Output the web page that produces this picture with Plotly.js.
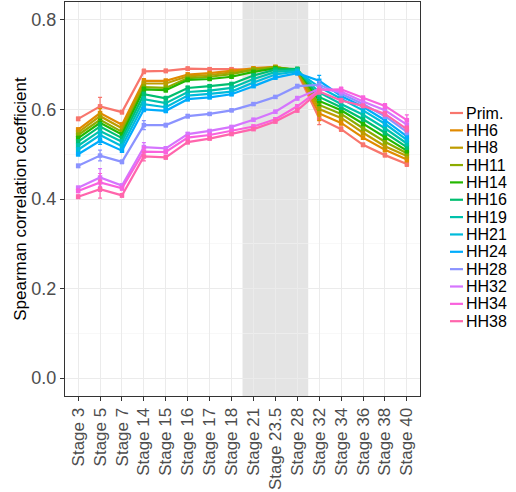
<!DOCTYPE html>
<html>
<head>
<meta charset="utf-8">
<script src="https://cdn.plot.ly/plotly-3.0.1.min.js"></script>
<style>html,body{margin:0;padding:0;background:#fff;}#chart{width:516px;height:492px;}</style>
</head>
<body>
<div id="chart"></div>
<script>
const stages = ["Stage 3","Stage 5","Stage 7","Stage 14","Stage 15","Stage 16","Stage 17","Stage 18","Stage 21","Stage 23.5","Stage 28","Stage 32","Stage 34","Stage 36","Stage 38","Stage 40"];

const seriesNames = ["Prim.","HH6","HH8","HH11","HH14","HH16","HH19","HH21","HH24","HH28","HH32","HH34","HH38"];
const seriesColors = ["#F8766D","#E18A00","#BE9C00","#8CAB00","#24B700","#00BE70","#00C1AB","#00BBDA","#00ACFC","#8B93FF","#D575FE","#F962DD","#FF65AC"];

const prim = [0.579,0.607,0.594,0.685,0.686,0.691,0.690,0.690,0.688,0.690,0.683,0.580,0.556,0.521,0.498,0.478];
const hh6  = [0.555,0.592,0.566,0.664,0.664,0.678,0.681,0.686,0.692,0.695,0.685,0.591,0.570,0.537,0.510,0.488];
const hh8  = [0.549,0.585,0.558,0.658,0.658,0.674,0.677,0.683,0.690,0.695,0.687,0.601,0.581,0.548,0.518,0.496];
const hh11 = [0.543,0.577,0.550,0.650,0.648,0.670,0.673,0.679,0.689,0.694,0.688,0.610,0.590,0.558,0.528,0.502];
const hh14 = [0.536,0.570,0.544,0.645,0.643,0.666,0.668,0.673,0.684,0.692,0.690,0.619,0.598,0.568,0.538,0.508];
const hh16 = [0.528,0.562,0.536,0.634,0.625,0.648,0.652,0.657,0.676,0.689,0.690,0.628,0.605,0.578,0.548,0.516];
const hh19 = [0.519,0.552,0.528,0.623,0.614,0.639,0.642,0.648,0.668,0.684,0.688,0.638,0.612,0.588,0.558,0.524];
const hh21 = [0.510,0.543,0.518,0.612,0.605,0.631,0.635,0.640,0.660,0.678,0.685,0.650,0.624,0.598,0.568,0.532];
const hh24 = [0.500,0.530,0.508,0.600,0.597,0.623,0.627,0.634,0.652,0.671,0.681,0.664,0.630,0.606,0.576,0.540];
const hh28 = [0.474,0.497,0.483,0.565,0.565,0.585,0.590,0.598,0.612,0.628,0.652,0.655,0.635,0.612,0.585,0.550];
const hh32 = [0.425,0.448,0.430,0.516,0.513,0.545,0.552,0.561,0.577,0.595,0.625,0.646,0.640,0.618,0.598,0.566];
const hh34 = [0.418,0.437,0.424,0.506,0.505,0.537,0.543,0.552,0.562,0.578,0.607,0.644,0.645,0.626,0.608,0.576];
const hh38 = [0.405,0.422,0.408,0.495,0.493,0.527,0.535,0.545,0.556,0.573,0.598,0.640,0.620,0.608,0.590,0.556];

const errPrim = [0.004,0.020,0.004,0.005,0.004,0.004,0.003,0.003,0.003,0.003,0.004,0.014,0.005,0.004,0.004,0.005];
const errHH6  = [0.004,0.010,0.004,0.005,0.004,0.004,0.003,0.003,0.003,0.003,0.004,0.016,0.005,0.004,0.005,0.005];
const errHH8  = [0.004,0.008,0.004,0.005,0.004,0.004,0.003,0.003,0.003,0.003,0.004,0.016,0.005,0.004,0.005,0.005];
const errHH11 = [0.004,0.008,0.004,0.005,0.004,0.004,0.003,0.003,0.003,0.003,0.004,0.012,0.005,0.004,0.005,0.005];
const errHH14 = [0.004,0.008,0.004,0.005,0.004,0.004,0.003,0.003,0.003,0.003,0.004,0.010,0.005,0.004,0.005,0.005];
const errHH16 = [0.004,0.008,0.004,0.005,0.004,0.004,0.003,0.003,0.003,0.003,0.004,0.008,0.005,0.004,0.005,0.005];
const errHH19 = [0.004,0.008,0.004,0.005,0.004,0.004,0.003,0.003,0.003,0.003,0.004,0.008,0.005,0.004,0.005,0.005];
const errHH21 = [0.004,0.008,0.004,0.005,0.004,0.004,0.003,0.003,0.003,0.003,0.004,0.008,0.005,0.004,0.006,0.005];
const errHH24 = [0.004,0.008,0.004,0.005,0.004,0.004,0.003,0.003,0.003,0.003,0.004,0.012,0.005,0.004,0.012,0.006];
const errHH28 = [0.004,0.012,0.004,0.010,0.004,0.004,0.003,0.003,0.003,0.003,0.004,0.008,0.005,0.004,0.005,0.006];
const errHH32 = [0.004,0.020,0.004,0.010,0.004,0.004,0.003,0.003,0.003,0.003,0.004,0.006,0.005,0.004,0.005,0.008];
const errHH34 = [0.004,0.020,0.004,0.010,0.004,0.004,0.003,0.003,0.003,0.003,0.004,0.006,0.005,0.004,0.005,0.012];
const errHH38 = [0.004,0.020,0.004,0.010,0.004,0.004,0.003,0.003,0.003,0.003,0.004,0.006,0.005,0.004,0.005,0.006];

const seriesValues = [prim,hh6,hh8,hh11,hh14,hh16,hh19,hh21,hh24,hh28,hh32,hh34,hh38];
const seriesErrors = [errPrim,errHH6,errHH8,errHH11,errHH14,errHH16,errHH19,errHH21,errHH24,errHH28,errHH32,errHH34,errHH38];

const yTicks = [0.0,0.2,0.4,0.6,0.8];
const shadedStart = "Stage 21", shadedEnd = "Stage 28";

// geometry (pixels in 516x492 canvas)
const W = 516, H = 492;
const M = {l:65, r:96, t:2, b:96};
const pw = W - M.l - M.r, ph = H - M.t - M.b;
const px2paperX = p => (p - M.l) / pw;
const px2paperY = p => (H - M.b - p) / ph;
const FONT = 'Liberation Sans, Arial, Helvetica, sans-serif';

const traces = [];
seriesNames.forEach((name, i) => {
  traces.push({
    x: stages, y: seriesValues[i], type: 'scatter', mode: 'lines',
    name: name, showlegend: false, hoverinfo: 'skip',
    line: {color: seriesColors[i], width: 2.2}
  });
  traces.push({
    x: stages, y: seriesValues[i], type: 'scatter', mode: 'markers',
    name: name, showlegend: false,
    marker: {color: seriesColors[i], size: 4.5, symbol: 'square'},
    error_y: {type: 'data', array: seriesErrors[i], visible: true, color: seriesColors[i], thickness: 1.2, width: 2}
  });
});

const s0 = stages.indexOf(shadedStart), s1 = stages.indexOf(shadedEnd);
const shapes = [{
  type: 'rect', xref: 'x', yref: 'paper', x0: s0 - 0.5, x1: s1 + 0.5, y0: 0, y1: 1,
  fillcolor: 'rgba(0,0,0,0.105)', line: {width: 0}, layer: 'between'
}];

// legend drawn as swatches + text
const annotations = [];
const legTop = 113, legStep = 17.35;
seriesNames.forEach((name, i) => {
  const yy = legTop + i * legStep;
  shapes.push({
    type: 'line', xref: 'paper', yref: 'paper',
    x0: px2paperX(450), x1: px2paperX(463), y0: px2paperY(yy), y1: px2paperY(yy),
    line: {color: seriesColors[i], width: 2.2}
  });
  annotations.push({
    xref: 'paper', yref: 'paper', x: px2paperX(464), y: px2paperY(yy),
    xanchor: 'left', yanchor: 'middle', showarrow: false, text: name,
    font: {family: FONT, size: 16, color: '#000'}
  });
});

const layout = {
  width: W, height: H,
  margin: M,
  paper_bgcolor: '#fff', plot_bgcolor: '#fff',
  showlegend: false,
  font: {family: FONT},
  xaxis: {
    type: 'category', categoryorder: 'array', categoryarray: stages,
    range: [-0.6, stages.length - 0.4],
    tickmode: 'array', tickvals: stages, ticktext: stages,
    tickangle: -90, tickfont: {size: 17, color: '#4D4D4D'},
    showgrid: true, gridcolor: '#EBEBEB', gridwidth: 1,
    ticks: 'outside', ticklen: 4, tickcolor: '#333', tickwidth: 1,
    showline: true, mirror: true, linecolor: '#333', linewidth: 1,
    zeroline: false, automargin: false
  },
  yaxis: {
    range: [-0.04, 0.84],
    tickvals: yTicks, ticktext: yTicks.map(v => v.toFixed(1)),
    tickfont: {size: 18, color: '#4D4D4D'},
    showgrid: true, gridcolor: '#EBEBEB', gridwidth: 1,
    minor: {dtick: 0.1, showgrid: true, gridcolor: '#F4F4F4', gridwidth: 0.6},
    ticks: 'outside', ticklen: 4, tickcolor: '#333', tickwidth: 1,
    showline: true, mirror: true, linecolor: '#333', linewidth: 1,
    zeroline: false, automargin: false,
    title: {text: 'Spearman correlation coefficient', font: {size: 17, color: '#000'}, standoff: 0}
  },
  shapes: shapes,
  annotations: annotations
};

Plotly.newPlot('chart', traces, layout, {staticPlot: true, displayModeBar: false});
</script>
</body>
</html>
